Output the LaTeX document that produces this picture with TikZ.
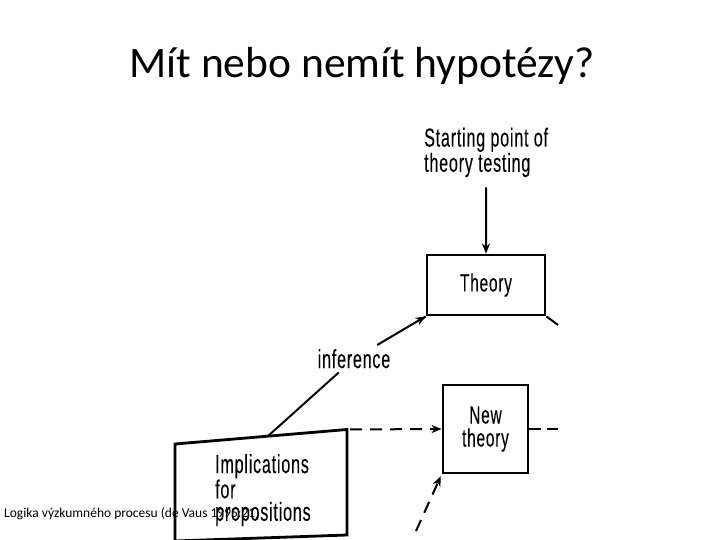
\documentclass[tikz,border=0pt]{standalone}
\usepackage{fontspec}
\setmainfont{Carlito}
\newfontfamily\scanfont{Liberation Sans}[FakeStretch=0.62,FakeBold=0.12,LetterSpace=3]
\usetikzlibrary{positioning,calc,arrows.meta}

\begin{document}
\begin{tikzpicture}[x=1pt,y=-1pt,
    box/.style={draw,line width=2.8pt,inner sep=0pt,align=center,
      font=\scanfont\fontsize{25}{23}\selectfont},
    lbl/.style={inner sep=0pt,align=left,font=\scanfont\fontsize{26}{22.5}\selectfont},
    link/.style={line width=2pt,-{Stealth[length=10pt,width=8pt,inset=3pt]}},
    plain/.style={line width=2pt},
    dashlink/.style={link,dash pattern=on 12pt off 8pt},
    dashplain/.style={plain,dash pattern=on 12pt off 6pt}]
  \useasboundingbox (0,0) rectangle (720,540);
  \node[anchor=base,inner sep=0pt,font=\fontsize{43.5}{48}\selectfont] (title) at (362,78) {Mít nebo nemít hypotézy?};
  % boxes
  \node[box,minimum width=118pt,minimum height=60pt] (theory) at (486,285) {Theory};
  \node[box,minimum width=85pt,minimum height=88pt] (newtheory) at (485.5,429) {New\\theory};
  \node[lbl,anchor=north west] (start) at (424,127.5) {Starting point of\\theory testing};
  \node[lbl,anchor=base,inner sep=4pt] (infer) at (354,368) {inference};
  % slanted box
  \coordinate (imp_nw) at (175,444);
  \coordinate (imp_ne) at (347,429.5);
  \coordinate (imp_se) at (347,535);
  \coordinate (imp_sw) at (175,541);
  \draw[line width=2.8pt,line join=miter] (imp_sw) -- (imp_nw) -- (imp_ne) -- (imp_se) -- (imp_sw);
  \node[lbl,anchor=north west] (implic) at (215,454) {Implications\\for\\propositions};
  \coordinate (imp_top) at ($(imp_nw)!0.54!(imp_ne)$);
  % free ends
  \coordinate (tail_l) at (421,320);
  \coordinate (tail_r) at (558,325);
  \coordinate (exit_r) at (558,429);
  \coordinate (feed) at (416,531);
  % links
  \draw[link,shorten <=10pt] (start.south) -- (theory.north);
  \draw[plain] (imp_top) -- (infer);
  \draw[link] (infer) -- (theory.south west);
  \draw[plain] (theory.south west) -- (tail_l);
  \draw[plain] (theory.south east) -- (tail_r);
  \draw[dashlink,shorten <=3pt] (imp_ne) -- (newtheory.west);
  \draw[dashplain] (newtheory.east) -- (exit_r);
  \draw[dashlink,shorten >=2pt] (feed) -- (newtheory.south west);
  \node[anchor=base west,inner sep=0pt,font=\fontsize{13.5}{15}\selectfont] (footer) at (4,517) {Logika výzkumného procesu (de Vaus 1995:21)};
\end{tikzpicture}
\end{document}
